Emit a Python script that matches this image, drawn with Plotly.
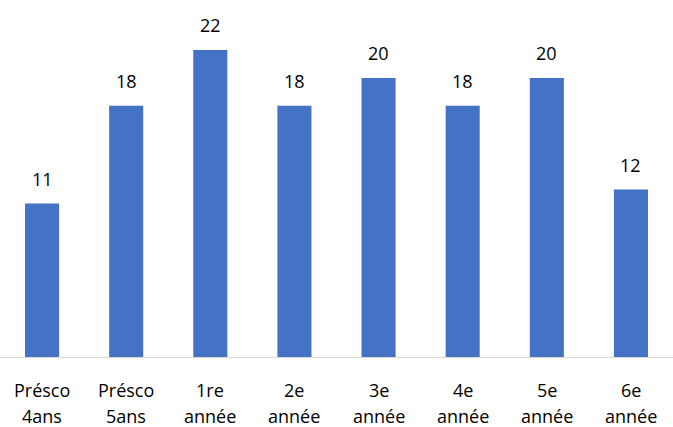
import plotly.graph_objects as go

categories = ["Présco 4ans", "Présco 5ans", "1re année", "2e année",
              "3e année", "4e année", "5e année", "6e année"]
label_line1 = ["Présco", "Présco", "1re", "2e", "3e", "4e", "5e", "6e"]
label_line2 = ["4ans", "5ans", "année", "année", "année", "année", "année", "année"]
values = [11, 18, 22, 18, 20, 18, 20, 12]

FONT = "Open Sans"
FS = 18

fig = go.Figure(go.Bar(
    x=categories, y=values,
    marker=dict(color="#4472C4", line=dict(width=0)),
    hoverinfo="x+y",
))

annotations = []
for c, v in zip(categories, values):
    annotations.append(dict(x=c, y=v, xref="x", yref="y", text=str(v),
                            showarrow=False, yanchor="middle", yshift=25,
                            font=dict(family=FONT, size=FS, color="#000000")))
for c, l1, l2 in zip(categories, label_line1, label_line2):
    annotations.append(dict(x=c, y=0, xref="x", yref="paper", text=l1,
                            showarrow=False, yanchor="middle", yshift=-33,
                            font=dict(family=FONT, size=FS, color="#000000")))
    annotations.append(dict(x=c, y=0, xref="x", yref="paper", text=l2,
                            showarrow=False, yanchor="middle", yshift=-59,
                            font=dict(family=FONT, size=FS, color="#000000")))

fig.update_layout(
    width=673, height=427,
    margin=dict(l=0, r=0, t=20, b=70, autoexpand=False),
    paper_bgcolor="white", plot_bgcolor="white",
    bargap=0.595,
    showlegend=False,
    font=dict(family=FONT, size=FS, color="#000000"),
    xaxis=dict(showline=True, linecolor="#D9D9D9", linewidth=1, ticks="",
               showticklabels=False, automargin=False),
    yaxis=dict(range=[0, 24.15], visible=False, showgrid=False, automargin=False),
    annotations=annotations,
)

fig.write_html("out.html",
               config={"displayModeBar": False},
               post_script="document.body.style.margin='0';document.body.style.overflow='hidden';")
